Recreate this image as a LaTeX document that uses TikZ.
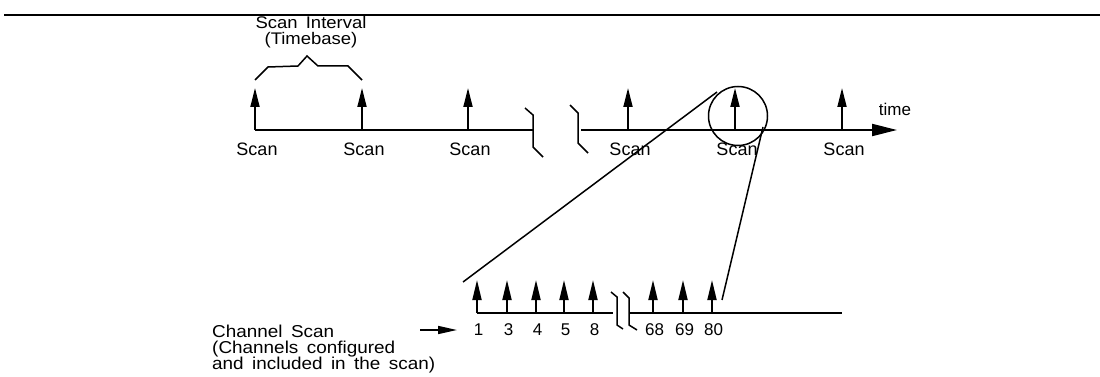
\documentclass[tikz,border=0pt]{standalone}
\usepackage{fontspec}
\setmainfont{Liberation Sans}
\newfontfamily\widefont[FakeStretch=1.1,WordSpace=1.6]{Liberation Sans}
\usetikzlibrary{arrows.meta}
\begin{document}
\begin{tikzpicture}[x=1pt,y=-1pt,
  rule/.style={line width=2.2pt},
  axis/.style={line width=2pt},
  thinline/.style={line width=1.5pt},
  scanarrow/.style={line width=1.8pt,-{Triangle[length=19pt,width=9pt]}},
  charrow/.style={line width=1.8pt,-{Triangle[length=20pt,width=9pt]}},
  timearrow/.style={line width=2pt,-{Triangle[length=25pt,width=12pt]}},
  ptr/.style={line width=1.6pt,-{Triangle[length=19pt,width=8pt]}},
  scanlbl/.style={font=\fontsize{18}{20}\selectfont, anchor=base, inner sep=0pt},
  numlbl/.style={font=\fontsize{17}{18}\selectfont, anchor=base, inner sep=0pt},
  toplbl/.style={font=\widefont\fontsize{16.8}{18}\selectfont, anchor=base, inner sep=0pt},
  sidelbl/.style={font=\widefont\fontsize{17.2}{18}\selectfont, anchor=base west, inner sep=0pt},
]
\useasboundingbox (0,0) rectangle (1100,377);

% top rule
\coordinate (ruleL) at (4,15);
\coordinate (ruleR) at (1100,15);
\draw[rule] (ruleL) -- (ruleR);

% main timeline
\coordinate (tA) at (255,130);
\coordinate (tB) at (533,130);
\coordinate (tC) at (581,130);
\coordinate (tEnd) at (897,130);
\draw[axis] (tA) -- (tB);
\draw[timearrow] (tC) -- (tEnd);
\node[font=\fontsize{17}{19}\selectfont, anchor=base, inner sep=0pt] (time) at (895,116) {time};

% break marks top
\draw[thinline] (525,108) -- (533,115) -- (533,147) -- (543,157);
\draw[thinline] (570,105) -- (578,113) -- (578,143) -- (588,153);

% scan arrows
\foreach \i/\x in {1/255,2/362,3/468,4/628,5/735,6/842}{
  \coordinate (s\i) at (\x,130);
  \coordinate (st\i) at (\x,88);
  \draw[scanarrow] (s\i) -- (st\i);
  \node[scanlbl] (sl\i) at (\x+2,155) {Scan};
}

% brace
\draw[thinline] (255,80) -- (268,67) -- (298,66) -- (307,56) -- (318,66) -- (348,66) -- (362,80);
\node[toplbl] (interval) at (311,29) {Scan Interval};
\node[toplbl] (timebase) at (311,44.5) {(Timebase)};

% zoom circle
\node[draw, line width=1.5pt, circle, minimum size=59pt, inner sep=0pt] (zoomc) at (738,116) {};
\coordinate (cL) at (717,92);
\coordinate (cR) at (763,127);
\coordinate (chL) at (463,282);
\coordinate (chR) at (722,300);
\draw[thinline] (cL) -- (chL);
\draw[thinline] (cR) -- (chR);

% channel line
\coordinate (c0) at (477,313);
\coordinate (c1) at (613,313);
\coordinate (c2) at (630,313);
\coordinate (c3) at (842,313);
\draw[axis] (c0) -- (c1);
\draw[axis] (c2) -- (c3);
\draw[thinline] (611,292) -- (617,297) -- (617,325) -- (623,329);
\draw[thinline] (623,292) -- (629,298) -- (629,325) -- (637,330);

\foreach \i/\x/\n in {1/477/1,2/507/3,3/536/4,4/564/5,5/593/8,6/653/68,7/683/69,8/712/80}{
  \coordinate (cb\i) at (\x,313);
  \coordinate (ct\i) at (\x,280);
  \draw[charrow] (cb\i) -- (ct\i);
  \node[numlbl] (cn\i) at (\x+1.5,335) {\n};
}

% channel scan label
\node[sidelbl] (chscan1) at (212,337) {Channel Scan};
\node[sidelbl] (chscan2) at (212,353) {(Channels configured};
\node[sidelbl] (chscan3) at (212,369) {and included in the scan)};
\coordinate (pA) at (420,330);
\coordinate (pB) at (457,330);
\draw[ptr] (pA) -- (pB);
\end{tikzpicture}
\end{document}
